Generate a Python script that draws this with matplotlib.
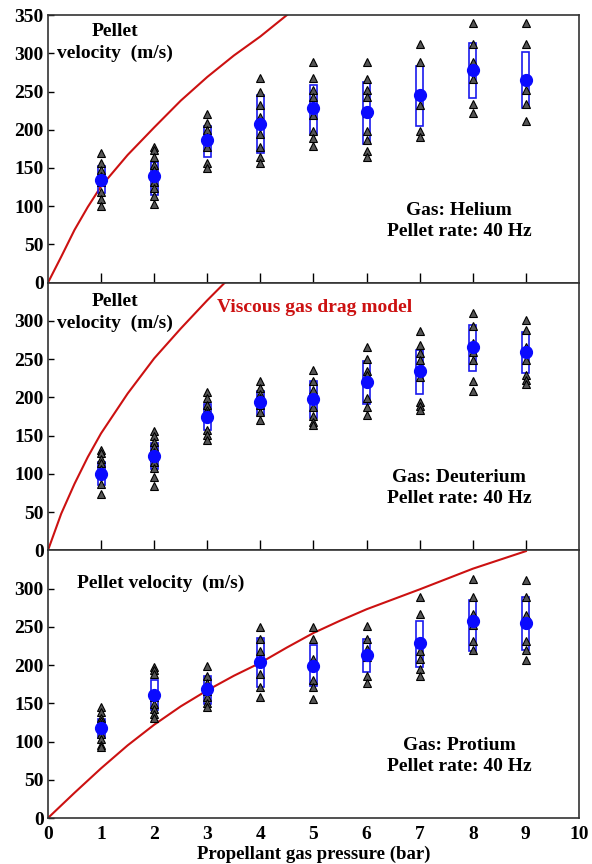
import numpy as np
import matplotlib
matplotlib.use("Agg")
import matplotlib.pyplot as plt

plt.rcParams['font.family'] = ['Liberation Serif', 'DejaVu Serif']
plt.rcParams['font.weight'] = 'bold'

# ---- data ----------------------------------------------------------------
pressure = [1, 2, 3, 4, 5, 6, 7, 8, 9]
gases = ["Helium", "Deuterium", "Protium"]

# individual shots (triangles) per pressure
he_shots = [
    [169, 157, 147, 139, 132, 119, 110, 100],
    [178, 173, 164, 154, 148, 140, 132, 124, 114, 103],
    [220, 209, 200, 191, 187, 178, 156, 150],
    [268, 250, 232, 217, 195, 178, 165, 156],
    [288, 268, 252, 243, 232, 219, 199, 189, 179],
    [288, 267, 252, 243, 222, 198, 187, 172, 165],
    [312, 288, 248, 232, 198, 191],
    [340, 312, 288, 267, 234, 222],
    [340, 312, 267, 252, 234, 211],
]
he_mean = [134, 139, 186, 208, 228, 223, 246, 278, 265]
he_box_lo = [117, 115, 164, 170, 194, 182, 205, 241, 228]
he_box_hi = [152, 158, 205, 246, 259, 263, 283, 314, 302]

d2_shots = [
    [131, 127, 120, 114, 107, 100, 87, 74],
    [156, 149, 142, 135, 129, 122, 116, 108, 96, 84],
    [207, 199, 190, 183, 179, 157, 151, 144],
    [221, 212, 205, 199, 190, 181, 170],
    [236, 221, 210, 199, 188, 176, 168, 164],
    [266, 250, 235, 229, 221, 199, 188, 177],
    [287, 269, 258, 249, 239, 227, 194, 189, 184],
    [310, 293, 271, 260, 249, 221, 208],
    [301, 288, 266, 249, 229, 223, 218],
]
d2_mean = [100, 124, 175, 194, 198, 220, 235, 266, 260]
d2_box_lo = [85, 107, 157, 177, 173, 192, 204, 235, 232]
d2_box_hi = [116, 141, 192, 208, 221, 247, 262, 295, 286]

h2_shots = [
    [145, 138, 131, 127, 123, 110, 103, 96, 93],
    [197, 193, 188, 164, 158, 149, 142, 136, 131],
    [199, 186, 177, 166, 158, 151, 145],
    [250, 234, 219, 188, 171, 158],
    [250, 234, 208, 199, 180, 171, 155],
    [251, 234, 221, 210, 186, 177],
    [289, 267, 232, 219, 208, 195, 186],
    [312, 289, 267, 252, 232, 220],
    [311, 289, 265, 232, 220, 206],
]
h2_mean = [118, 161, 169, 204, 199, 213, 229, 258, 255]
h2_box_lo = [105, 141, 149, 171, 173, 191, 197, 219, 220]
h2_box_hi = [129, 180, 186, 236, 226, 234, 258, 285, 289]

# viscous gas drag model curves
he_model_p = [0, 0.25, 0.5, 0.75, 1, 1.5, 2, 2.5, 3, 3.5, 4, 4.5]
he_model_v = [0, 34, 69, 99, 126, 167, 203, 238, 269, 297, 322, 350]
d2_model_p = [0, 0.25, 0.5, 0.75, 1, 1.5, 2, 2.5, 3, 3.33]
d2_model_v = [0, 48, 87, 122, 153, 205, 251, 290, 327, 350]
h2_model_p = [0, 0.5, 1, 1.5, 2, 2.5, 3, 3.5, 4, 4.5, 5, 5.5, 6, 7, 8, 9]
h2_model_v = [0, 33, 65, 95, 122, 146, 167, 186, 203, 223, 242, 258, 273,
              299, 326, 349]

panels = [
    (he_shots, he_mean, he_box_lo, he_box_hi, he_model_p, he_model_v),
    (d2_shots, d2_mean, d2_box_lo, d2_box_hi, d2_model_p, d2_model_v),
    (h2_shots, h2_mean, h2_box_lo, h2_box_hi, h2_model_p, h2_model_v),
]

fig = plt.figure(figsize=(5.92, 8.64), dpi=100)
gs = fig.add_gridspec(3, 1, left=0.081, right=0.978, bottom=0.0532,
                      top=0.9826, hspace=0)
axes = [fig.add_subplot(gs[i]) for i in range(3)]

for i, ax in enumerate(axes):
    shots, mean, lo, hi, mp, mv = panels[i]

    # box (spread) around the mean
    ax.bar(pressure, np.array(hi) - np.array(lo), bottom=lo, width=0.13,
           fill=False, edgecolor='#1a1aee', linewidth=1.2, zorder=2)

    # single shots
    for p, vals in zip(pressure, shots):
        ax.plot([p] * len(vals), vals, linestyle='none', marker='^',
                markersize=5.4, markerfacecolor='#555555',
                markeredgecolor='black', markeredgewidth=0.8, zorder=3)

    # mean
    ax.plot(pressure, mean, linestyle='none', marker='o', markersize=8.5,
            color='#0a0aff', zorder=4)

    # model
    ax.plot(mp, mv, color='#cc1111', linewidth=1.5, zorder=1)

    ax.set_xlim(0, 10)
    ax.set_ylim(0, 350)
    ax.set_xticks(pressure)
    ax.tick_params(axis='x', direction='in', length=7, width=1.0,
                   labelbottom=False)
    ax.set_yticks(np.arange(0, 351, 50))
    ax.tick_params(axis='y', direction='in', length=4, width=1.0,
                   labelsize=14, pad=3)
    for s in ax.spines.values():
        s.set_color('#333333')
        s.set_linewidth(1.2)

    ax.text(7.74, 81, f"Gas: {gases[i]}\nPellet rate: 40 Hz", ha='center',
            va='center', fontsize=14, fontweight='bold', linespacing=1.3)

# the top label is hidden where panels meet
for ax in axes[1:]:
    ax.set_yticks(np.arange(0, 301, 50))

axes[0].text(1.27, 314, "Pellet\nvelocity  (m/s)", ha='center', va='center',
             fontsize=14, fontweight='bold', linespacing=1.3)
axes[1].text(1.27, 311, "Pellet\nvelocity  (m/s)", ha='center', va='center',
             fontsize=14, fontweight='bold', linespacing=1.3)
axes[2].text(2.13, 307, "Pellet velocity  (m/s)", ha='center', va='center',
             fontsize=14, fontweight='bold')
axes[1].text(5.03, 317, "Viscous gas drag model", ha='center', va='center',
             fontsize=14, fontweight='bold', color='#cc1111')

ax = axes[2]
ax.set_xticks(range(0, 11))
ax.tick_params(axis='x', labelbottom=True, labelsize=14, pad=6)
for t in ax.xaxis.get_major_ticks():
    if t.get_loc() in (0, 10):
        t.tick1line.set_visible(False)
ax.set_xlabel("Propellant gas pressure (bar)", fontsize=13.5,
              fontweight='bold', labelpad=2)

fig.savefig("out.png", dpi=100)
